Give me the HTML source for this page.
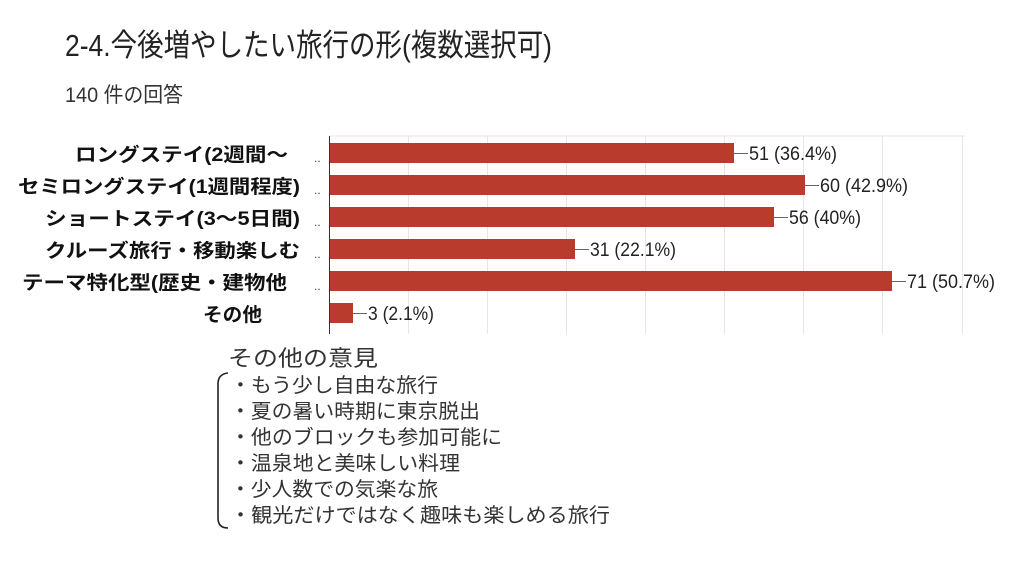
<!DOCTYPE html>
<html><head><meta charset="utf-8"><style>
html,body{margin:0;padding:0;background:#fff;width:1024px;height:576px;overflow:hidden}
svg{display:block}
</style></head><body>
<svg width="1024" height="576" xmlns="http://www.w3.org/2000/svg" font-family="'Liberation Sans','Noto Sans CJK JP',sans-serif">
<text x="65" y="56" font-size="31" fill="#222" textLength="487" lengthAdjust="spacingAndGlyphs">2-4.今後増やしたい旅行の形(複数選択可)</text>
<text x="65" y="102" font-size="21" fill="#333" textLength="118" lengthAdjust="spacingAndGlyphs">140 件の回答</text>
<g stroke="#e6e6e6" stroke-width="1">
<line x1="329" y1="136" x2="965" y2="136"/>
<line x1="408.5" y1="136" x2="408.5" y2="334"/><line x1="487.5" y1="136" x2="487.5" y2="334"/>
<line x1="566.5" y1="136" x2="566.5" y2="334"/><line x1="645.5" y1="136" x2="645.5" y2="334"/>
<line x1="724.5" y1="136" x2="724.5" y2="334"/><line x1="803.5" y1="136" x2="803.5" y2="334"/>
<line x1="882.5" y1="136" x2="882.5" y2="334"/><line x1="962.5" y1="136" x2="962.5" y2="334"/>
</g>
<line x1="329.5" y1="136" x2="329.5" y2="334" stroke="#333" stroke-width="1"/>
<g fill="#b83b2e">
<rect x="330" y="143" width="404" height="20"/>
<rect x="330" y="175" width="475" height="20"/>
<rect x="330" y="207" width="444" height="20"/>
<rect x="330" y="239" width="245" height="20"/>
<rect x="330" y="271" width="562" height="20"/>
<rect x="330" y="303" width="23" height="20"/>
</g>
<g stroke="#666" stroke-width="1">
<line x1="734" y1="153.5" x2="748" y2="153.5"/><line x1="805" y1="185.5" x2="819" y2="185.5"/>
<line x1="774" y1="217.5" x2="788" y2="217.5"/><line x1="575" y1="249.5" x2="589" y2="249.5"/>
<line x1="892" y1="281.5" x2="906" y2="281.5"/><line x1="353" y1="313.5" x2="367" y2="313.5"/>
</g>
<g font-size="19" fill="#222">
<text x="749" y="160" textLength="88" lengthAdjust="spacingAndGlyphs">51 (36.4%)</text>
<text x="820" y="192" textLength="88" lengthAdjust="spacingAndGlyphs">60 (42.9%)</text>
<text x="789" y="224" textLength="72" lengthAdjust="spacingAndGlyphs">56 (40%)</text>
<text x="590" y="256" textLength="86" lengthAdjust="spacingAndGlyphs">31 (22.1%)</text>
<text x="907" y="288" textLength="88" lengthAdjust="spacingAndGlyphs">71 (50.7%)</text>
<text x="368" y="320" textLength="66" lengthAdjust="spacingAndGlyphs">3 (2.1%)</text>
</g>
<g font-size="19" font-weight="bold" fill="#111">
<text x="75" y="161" textLength="213" lengthAdjust="spacingAndGlyphs">ロングステイ(2週間〜</text>
<text x="18" y="193" textLength="282" lengthAdjust="spacingAndGlyphs">セミロングステイ(1週間程度)</text>
<text x="45" y="225" textLength="255" lengthAdjust="spacingAndGlyphs">ショートステイ(3〜5日間)</text>
<text x="45" y="257" textLength="255" lengthAdjust="spacingAndGlyphs">クルーズ旅行・移動楽しむ</text>
<text x="22" y="289" textLength="265" lengthAdjust="spacingAndGlyphs">テーマ特化型(歴史・建物他</text>
<text x="203" y="321" textLength="59" lengthAdjust="spacingAndGlyphs">その他</text>
</g>
<g font-size="12" fill="#444">
<text x="314" y="162">..</text><text x="314" y="194">..</text><text x="314" y="226">..</text>
<text x="314" y="258">..</text><text x="314" y="290">..</text>
</g>
<text x="228" y="366" font-size="22" fill="#333" textLength="150" lengthAdjust="spacingAndGlyphs">その他の意見</text>
<path d="M228 373 Q218 374 218 384 L218 518 Q218 528 228 528" fill="none" stroke="#222" stroke-width="1.6"/>
<g font-size="20" fill="#333">
<text x="230" y="392" textLength="208" lengthAdjust="spacingAndGlyphs">・もう少し自由な旅行</text>
<text x="230" y="418" textLength="250" lengthAdjust="spacingAndGlyphs">・夏の暑い時期に東京脱出</text>
<text x="230" y="444" textLength="272" lengthAdjust="spacingAndGlyphs">・他のブロックも参加可能に</text>
<text x="230" y="470" textLength="230" lengthAdjust="spacingAndGlyphs">・温泉地と美味しい料理</text>
<text x="230" y="496" textLength="208" lengthAdjust="spacingAndGlyphs">・少人数での気楽な旅</text>
<text x="230" y="522" textLength="380" lengthAdjust="spacingAndGlyphs">・観光だけではなく趣味も楽しめる旅行</text>
</g>
</svg>
</body></html>
